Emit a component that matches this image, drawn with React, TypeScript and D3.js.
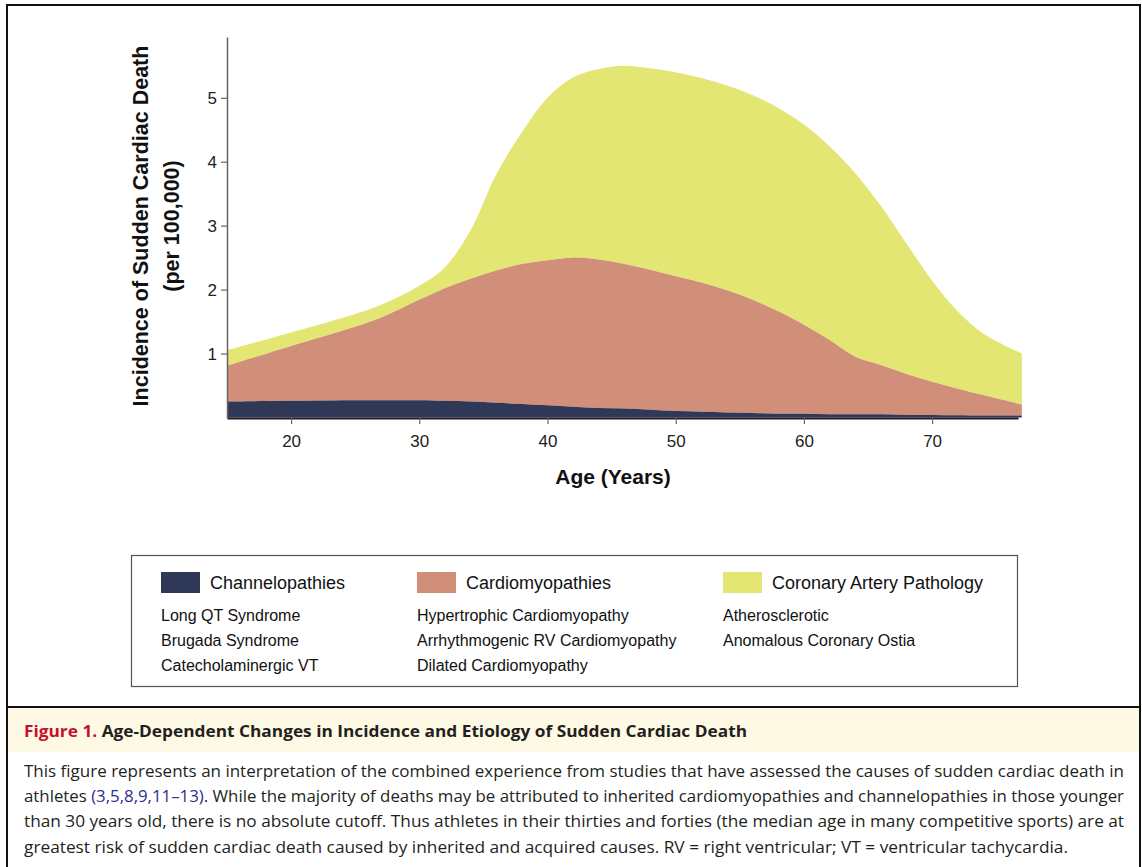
import { useRef, useEffect } from 'react';
import * as d3 from 'd3';

// ages (years) and the cumulative upper edge of each stacked band
const ages = [15, 20, 25, 27, 30, 32, 34, 36, 38, 40, 42, 44, 46, 48, 50, 52, 54, 56, 58, 60, 62, 64, 66, 68, 70, 72, 74, 77];
const channelTop = [0.25, 0.26, 0.27, 0.27, 0.27, 0.26, 0.25, 0.23, 0.21, 0.19, 0.17, 0.15, 0.14, 0.12, 0.10, 0.09, 0.08, 0.07, 0.06, 0.06, 0.05, 0.05, 0.05, 0.04, 0.04, 0.035, 0.03, 0.03];
const cardioTop = [0.81, 1.12, 1.42, 1.56, 1.84, 2.02, 2.17, 2.30, 2.40, 2.46, 2.50, 2.47, 2.40, 2.31, 2.21, 2.11, 1.99, 1.84, 1.66, 1.45, 1.21, 0.95, 0.82, 0.68, 0.56, 0.45, 0.35, 0.20];
const coronaryTop = [1.05, 1.33, 1.62, 1.76, 2.06, 2.35, 2.93, 3.80, 4.46, 5.00, 5.32, 5.45, 5.50, 5.46, 5.40, 5.31, 5.19, 5.04, 4.84, 4.58, 4.24, 3.82, 3.31, 2.72, 2.14, 1.66, 1.31, 1.00];

const xTicks = [20, 30, 40, 50, 60, 70];
const yTicks = [1, 2, 3, 4, 5];

const groups = ['Channelopathies', 'Cardiomyopathies', 'Coronary Artery Pathology'];
const groupColors = ['#2f3857', '#d18e78', '#e3e672'];
const groupItems = [
  ['Long QT Syndrome', 'Brugada Syndrome', 'Catecholaminergic VT'],
  ['Hypertrophic Cardiomyopathy', 'Arrhythmogenic RV Cardiomyopathy', 'Dilated Cardiomyopathy'],
  ['Atherosclerotic', 'Anomalous Coronary Ostia'],
];

const captionTitle = 'Age-Dependent Changes in Incidence and Etiology of Sudden Cardiac Death';
const captionLines = [
  'This figure represents an interpretation of the combined experience from studies that have assessed the causes of sudden cardiac death in',
  '', // line 2 has a coloured reference, built below
  'than 30 years old, there is no absolute cutoff. Thus athletes in their thirties and forties (the median age in many competitive sports) are at',
  'greatest risk of sudden cardiac death caused by inherited and acquired causes. RV = right ventricular; VT = ventricular tachycardia.',
];

const font = '"Liberation Sans", Arial, Helvetica, sans-serif';
const capFont = '"Open Sans", "Noto Sans", sans-serif';

const App = () => {
  const xAxisRef = useRef<SVGGElement>(null);
  const yAxisRef = useRef<SVGGElement>(null);

  const x = d3.scaleLinear().domain([15, 76.7]).range([227, 1018]);
  const y = d3.scaleLinear().domain([0, 5.95]).range([417.5, 37]);

  const band = (lo: number[] | null, hi: number[]) =>
    d3.area<number>()
      .x((_, i) => x(ages[i]))
      .y0((_, i) => y(lo ? lo[i] : 0))
      .y1((_, i) => y(hi[i]))
      .curve(d3.curveCatmullRom.alpha(0.5))(ages.map((_, i) => i)) || '';

  useEffect(() => {
    const gx = d3.select(xAxisRef.current);
    gx.selectAll('*').remove();
    gx.call(d3.axisBottom(x).tickValues(xTicks).tickFormat(d3.format('d')).tickSize(6).tickSizeOuter(0).tickPadding(11));
    gx.select('.domain').attr('stroke', '#1c1c1c').attr('stroke-width', 2);
    gx.selectAll('.tick line').attr('stroke', '#666').attr('stroke-width', 1.2);
    gx.selectAll('.tick text').attr('font-size', 17).attr('font-family', font).attr('fill', '#222');

    const gy = d3.select(yAxisRef.current);
    gy.selectAll('*').remove();
    gy.call(d3.axisLeft(y).tickValues(yTicks).tickFormat(d3.format('d')).tickSize(6).tickSizeOuter(0).tickPadding(4));
    gy.select('.domain').attr('stroke', '#666').attr('stroke-width', 1.5);
    gy.selectAll('.tick line').attr('stroke', '#666').attr('stroke-width', 1.2);
    gy.selectAll('.tick text').attr('font-size', 17).attr('font-family', font).attr('fill', '#222');
  }, []);

  const legendX = [161, 417, 723];

  return (
    <div>
      <style>{'body{margin:0}'}</style>
      <svg width={1142} height={867} style={{ display: 'block', background: '#fff' }}>
        {/* outer frame */}
        <rect x={7} y={5} width={1133} height={880} fill="none" stroke="#111" strokeWidth={2} />

        {/* stacked areas */}
        <path d={band(cardioTop, coronaryTop)} fill={groupColors[2]} />
        <path d={band(channelTop, cardioTop)} fill={groupColors[1]} />
        <path d={band(null, channelTop)} fill={groupColors[0]} />

        <g ref={yAxisRef} transform="translate(227,0)" />
        <g ref={xAxisRef} transform="translate(0,418)" />

        {/* axis titles */}
        <g transform="translate(141,226) rotate(-90)" fontFamily={font} fontWeight="bold" fontSize={21.5} fill="#111" textAnchor="middle">
          <text y={7}>Incidence of Sudden Cardiac Death</text>
          <text y={38}>(per 100,000)</text>
        </g>
        <text x={613} y={484} fontFamily={font} fontWeight="bold" fontSize={21} fill="#111" textAnchor="middle">Age (Years)</text>

        {/* legend */}
        <rect x={131.5} y={555.5} width={886} height={131} fill="none" stroke="#555" strokeWidth={1.2} />
        {groups.map((g, i) => (
          <g key={g} fontFamily={font} fill="#111">
            <rect x={legendX[i]} y={572} width={39} height={21} fill={groupColors[i]} />
            <text x={legendX[i] + 49} y={588.5} fontSize={18}>{g}</text>
            {groupItems[i].map((t, j) => (
              <text key={t} x={legendX[i]} y={621 + j * 25} fontSize={16}>{t}</text>
            ))}
          </g>
        ))}

        {/* caption */}
        <line x1={7} x2={1140} y1={707} y2={707} stroke="#111" strokeWidth={2} />
        <rect x={8} y={708} width={1131} height={44} fill="#fdf9e4" />
        <text x={24} y={737} fontFamily={capFont} fontWeight="bold" fontSize={16} fill="#231f20" textLength={723} lengthAdjust="spacingAndGlyphs">
          <tspan fill="#c8102e">Figure 1.</tspan> {captionTitle}
        </text>
        <g fontFamily={capFont} fontSize={16} fill="#231f20">
          <text x={24} y={777} textLength={1100} lengthAdjust="spacingAndGlyphs">{captionLines[0]}</text>
          <text x={24} y={802} textLength={1100} lengthAdjust="spacingAndGlyphs">
            athletes <tspan fill="#2b2f8f">(3,5,8,9,11–13)</tspan>. While the majority of deaths may be attributed to inherited cardiomyopathies and channelopathies in those younger
          </text>
          <text x={24} y={827} textLength={1100} lengthAdjust="spacingAndGlyphs">{captionLines[2]}</text>
          <text x={24} y={853} textLength={1044} lengthAdjust="spacingAndGlyphs">{captionLines[3]}</text>
        </g>
      </svg>
    </div>
  );
};

export default App;
